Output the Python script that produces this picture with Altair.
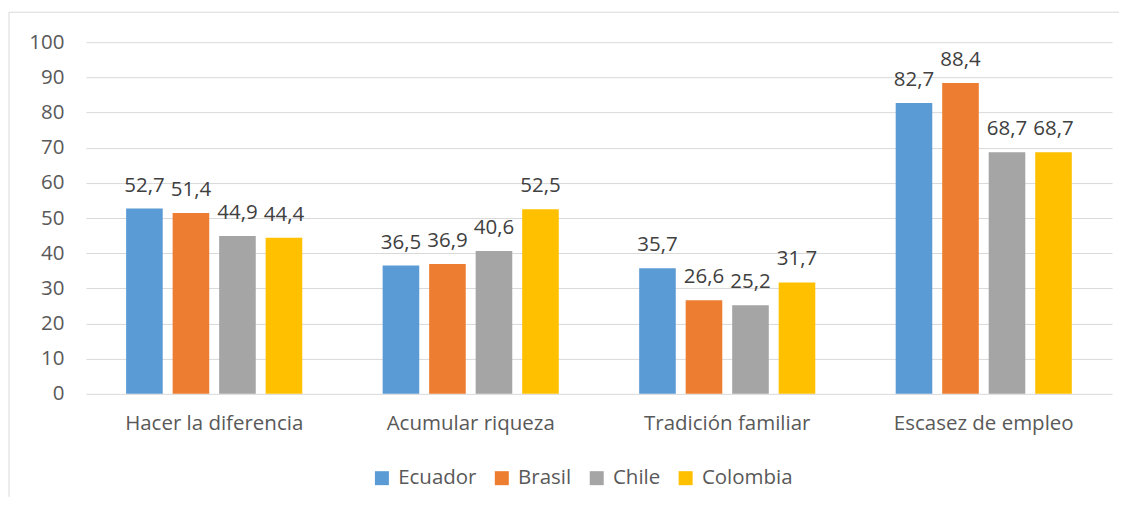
import altair as alt
import pandas as pd

categories = ["Hacer la diferencia", "Acumular riqueza", "Tradición familiar", "Escasez de empleo"]
series = ["Ecuador", "Brasil", "Chile", "Colombia"]
ecuador = [52.7, 36.5, 35.7, 82.7]
brasil = [51.4, 36.9, 26.6, 88.4]
chile = [44.9, 40.6, 25.2, 68.7]
colombia = [44.4, 52.5, 31.7, 68.7]
colors = ["#5B9BD5", "#ED7D31", "#A5A5A5", "#FFC000"]
y_ticks = list(range(0, 101, 10))

rows = []
for name, vals in zip(series, [ecuador, brasil, chile, colombia]):
    for cat, v in zip(categories, vals):
        rows.append({"cat": cat, "pais": name, "valor": v,
                     "etiqueta": f"{v:.1f}".replace(".", ",")})
df = pd.DataFrame(rows)

FONT = "Open Sans"
FS = 20.5

x_enc = alt.X("cat:N", sort=categories, title=None,
              scale=alt.Scale(paddingInner=0.3134, paddingOuter=0.1567),
              axis=alt.Axis(labelAngle=0, domain=False, ticks=False, tickSize=0,
                            labelPadding=20, labelFontSize=FS, labelColor="#595959",
                            labelFont=FONT, grid=False, labelLimit=400))
xoff = alt.XOffset("pais:N", sort=series,
                   scale=alt.Scale(paddingInner=0.213, paddingOuter=0))
y_enc = alt.Y("valor:Q", title=None,
              scale=alt.Scale(domain=[0, 100], nice=False),
              axis=alt.Axis(values=y_ticks, tickCount=11, domain=False, ticks=False,
                            tickSize=0, labelOverlap=False,
                            labelPadding=22, labelFontSize=FS, labelColor="#595959",
                            labelFont=FONT, gridColor="#D9D9D9", gridWidth=1))

base = alt.Chart(df)

bars = base.mark_bar().encode(
    x=x_enc,
    xOffset=xoff,
    y=y_enc,
    color=alt.Color("pais:N", sort=series,
                    scale=alt.Scale(domain=series, range=colors),
                    legend=alt.Legend(title=None, orient="none", direction="horizontal",
                                      legendX=286, legendY=426,
                                      symbolType="square", symbolSize=196,
                                      symbolStrokeWidth=0, symbolOpacity=1,
                                      labelFontSize=FS, labelColor="#595959",
                                      labelFont=FONT, labelOffset=6,
                                      columnPadding=15)),
)

labels = base.mark_text(baseline="alphabetic", dy=-17, fontSize=FS,
                        color="#404040", font=FONT).encode(
    x=x_enc,
    xOffset=xoff,
    y=y_enc,
    text="etiqueta:N",
)

frame_df = pd.DataFrame({"k": [0]})
left_line = alt.Chart(frame_df).mark_rule(color="#D9D9D9", strokeWidth=1).encode(
    x=alt.value(-77), y=alt.value(-30), y2=alt.value(455))
top_line = alt.Chart(frame_df).mark_rule(color="#D9D9D9", strokeWidth=1).encode(
    x=alt.value(-77), x2=alt.value(1034), y=alt.value(-30))

chart = alt.layer(left_line, top_line, bars, labels).properties(
    width=1027, height=352,
    background="white",
    padding={"left": 0, "top": 3, "right": 0, "bottom": 0},
).configure_view(stroke=None)

chart.save("out.html", embed_options={"renderer": "svg", "actions": False})
